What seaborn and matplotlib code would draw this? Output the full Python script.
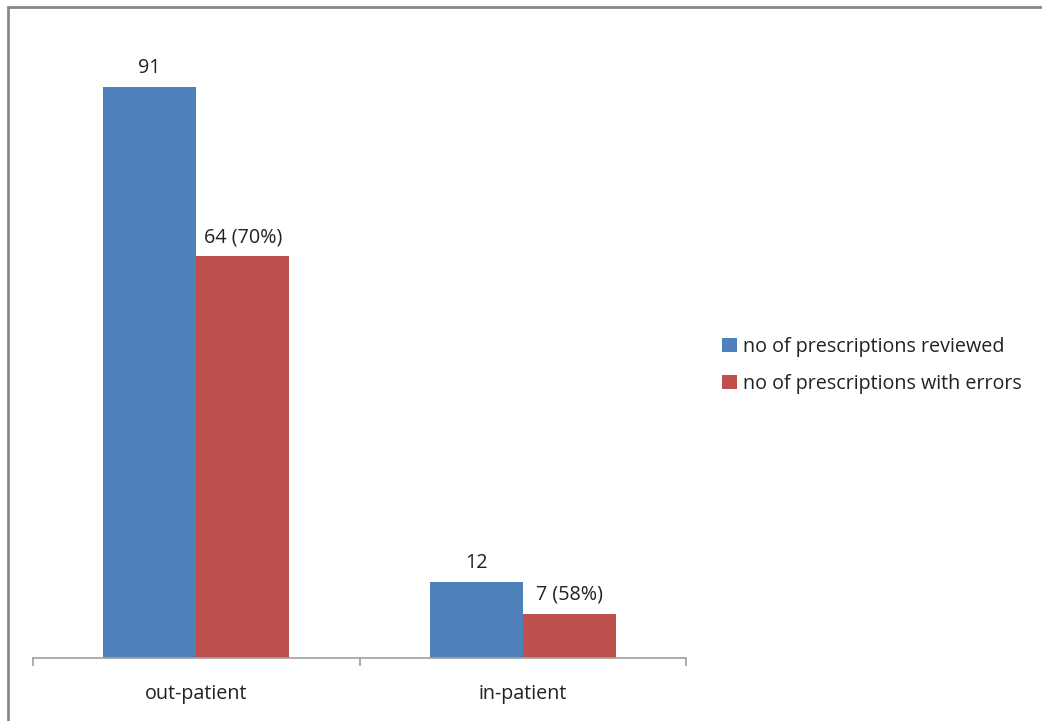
import matplotlib
matplotlib.use("Agg")
import matplotlib.pyplot as plt
import seaborn as sns
import pandas as pd
from matplotlib.patches import Rectangle

categories = ["out-patient", "in-patient"]
series_names = ["no of prescriptions reviewed", "no of prescriptions with errors"]
reviewed = [91, 12]
with_errors = [64, 7]
reviewed_labels = ["91", "12"]
error_labels = ["64 (70%)", "7 (58%)"]

df = pd.DataFrame({
    "category": categories * 2,
    "series": [series_names[0]] * len(categories) + [series_names[1]] * len(categories),
    "value": reviewed + with_errors,
})

sns.set_theme(style="white")
plt.rcParams["font.family"] = ["Open Sans", "DejaVu Sans"]

FS = 14.2
W, H = 1042, 721
fig = plt.figure(figsize=(W / 100, H / 100), dpi=100)
ax = fig.add_axes([33 / W, (H - 657.5) / H, (686 - 33) / W, (657.5 - 30.5) / H])

palette = {series_names[0]: "#4F81BD", series_names[1]: "#C0504D"}
sns.barplot(data=df, x="category", y="value", hue="series", order=categories,
            hue_order=series_names, palette=palette, width=0.57, ax=ax,
            saturation=1, legend=True, edgecolor="none", linewidth=0)

ax.set_ylim(0, 100)
ax.set_xlim(-0.5, 1.5)
ax.set_xlabel("")
ax.set_ylabel("")
ax.set_yticks([])
for s in ["top", "right", "left"]:
    ax.spines[s].set_visible(False)
ax.spines["bottom"].set_color("#A0A0A0")
ax.spines["bottom"].set_linewidth(1.2)

ax.tick_params(axis="x", which="major", bottom=False, length=0, pad=19,
               labelsize=FS, labelcolor="#222222")
ax.set_xticks([-0.5, 0.5, 1.5], minor=True)
ax.tick_params(axis="x", which="minor", bottom=True, length=6, width=1.2,
               color="#A0A0A0", direction="out")

ax.bar_label(ax.containers[0], labels=reviewed_labels, padding=6.5, fontsize=FS, color="#222222")
ax.bar_label(ax.containers[1], labels=error_labels, padding=6.5, fontsize=FS, color="#222222")

leg = ax.legend(loc="center left", bbox_to_anchor=(722 / W, (H - 365.5) / H),
                bbox_transform=fig.transFigure, frameon=False, fontsize=FS,
                handlelength=0.75, handleheight=0.75, handletextpad=0.3,
                labelspacing=0.85, borderaxespad=0, borderpad=0)
for t in leg.get_texts():
    t.set_color("#222222")

fig.patches.append(Rectangle((8 / W, -0.05), 2.0, (H - 7) / H + 0.05,
                             transform=fig.transFigure, fill=False,
                             edgecolor="#888888", linewidth=2, zorder=10))

fig.savefig("out.png", dpi=100)
